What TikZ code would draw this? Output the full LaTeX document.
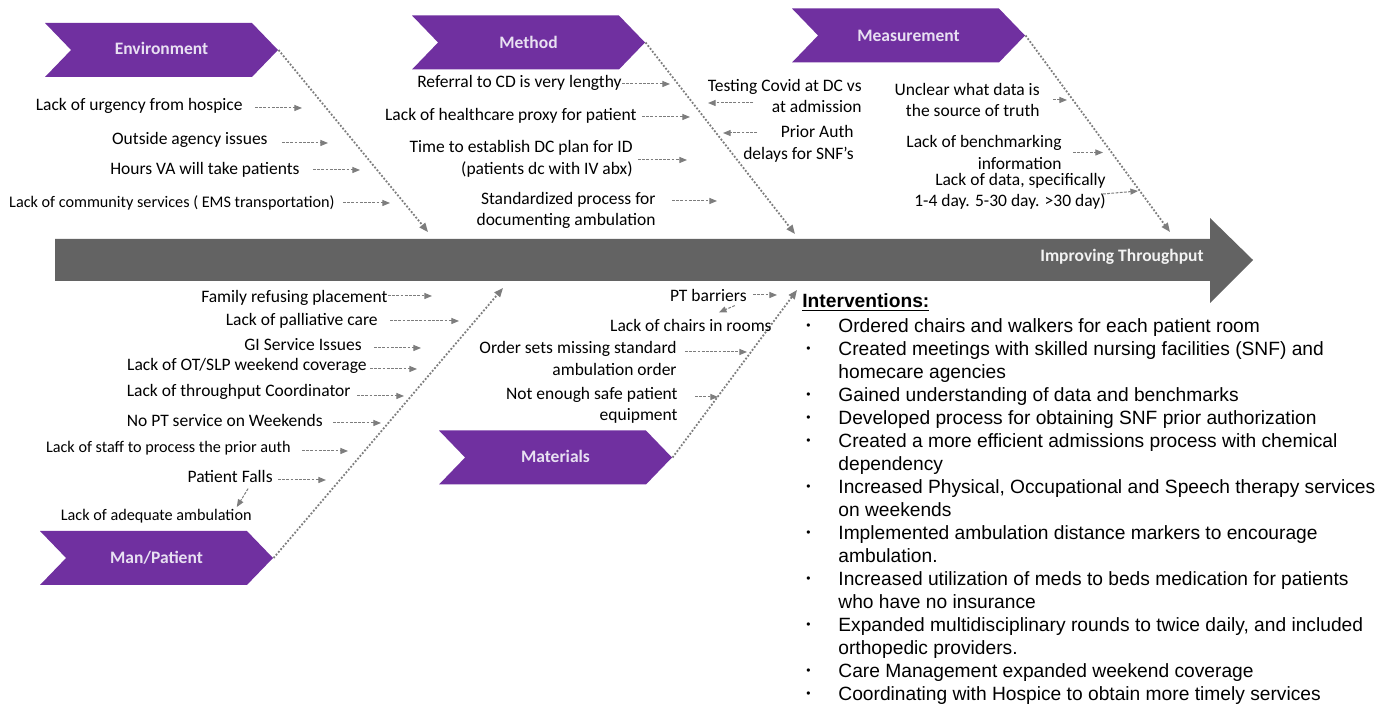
\documentclass[tikz,border=0pt]{standalone}
\usepackage{fontspec}
\setmainfont{Carlito}
\newfontfamily\arialf{Liberation Sans}
\usetikzlibrary{shapes.symbols,arrows.meta}
\definecolor{purp}{RGB}{112,48,160}
\definecolor{chevtxt}{RGB}{232,224,242}
\definecolor{spinec}{RGB}{99,99,99}
\definecolor{lgray}{RGB}{125,125,125}
\newcommand\lblfont{\fontsize{8.75}{10.75}\selectfont}
\newcommand\smlfont{\fontsize{8.1}{10}\selectfont}
\newcommand\intfont{\arialf\fontsize{9.6}{11.5}\selectfont}
\newcommand\smallbul{\raisebox{1.6pt}{\fontsize{6}{6}\selectfont\textbullet}}
\begin{document}
\begin{tikzpicture}[x=0.5pt,y=-0.5pt,
  chev/.style={signal, signal to=east, signal from=west, signal pointer angle=92,
    fill=purp, draw=none, minimum width=116.5pt, minimum height=27pt, inner sep=0pt,
    text=chevtxt, font=\lblfont\bfseries},
  lab/.style={font=\lblfont, inner sep=0pt, text height=6.3pt, text depth=1.9pt, anchor=east},
  labm/.style={font=\lblfont, inner sep=0pt, align=right, anchor=east},
  sml/.style={font=\smlfont, inner sep=0pt, text height=5.8pt, text depth=1.75pt, anchor=east},
  sarr/.style={draw=lgray, line width=0.5pt, dash pattern=on 1.4pt off 0.7pt,
    -{Triangle[length=3.8pt,width=3pt]}, lgray},
  darr/.style={draw=lgray, line width=0.9pt, dash pattern=on 0.9pt off 0.9pt,
    -{Triangle[length=4.5pt,width=3.6pt]}, lgray}]
\useasboundingbox (0,0) rectangle (1380,704);
\fill[white] (0,0) rectangle (1380,704);

% spine
\fill[spinec] (55,239) -- (1210,239) -- (1210,218) -- (1253,260) -- (1210,303) -- (1210,281) -- (55,281) -- cycle;
\node[anchor=east, inner sep=0pt, font=\lblfont\bfseries, text=white!95!black] (goal) at (1204,257) {Improving Throughput};

% chevrons
\node[chev] (env) at (161.5,50) {\raisebox{1.2pt}{Environment}};
\node[chev] (meth) at (528.5,42.5) {Method};
\node[chev] (meas) at (908.5,35.5) {\raisebox{-0.6pt}{Measurement}};
\node[chev] (man) at (156.5,558) {\raisebox{1pt}{Man/Patient}};
\node[chev] (mat) at (555.5,457.5) {\raisebox{1pt}{Materials}};

% bone end points on the spine
\coordinate (envend) at (428,232);
\coordinate (methend) at (795,234);
\coordinate (measend) at (1170,232);
\coordinate (manend) at (503,288);
\coordinate (matend) at (797,290);

\draw[darr] (env.east) -- (envend);
\draw[darr] (meth.east) -- (methend);
\draw[darr] (meas.east) -- (measend);
\draw[darr] (man.east) -- (manend);
\draw[darr] (mat.east) -- (matend);

% Environment causes
\node[lab] (e1) at (243,106) {Lack of urgency from hospice};
\node[lab] (e2) at (268,140) {Outside agency issues};
\node[lab] (e3) at (300,170) {Hours VA will take patients};
\node[sml] (e4) at (335,203) {Lack of community services ( EMS transportation)};
\draw[sarr] ([xshift=6pt,yshift=-1pt]e1.east) -- ++(47,0);
\draw[sarr] ([xshift=7pt,yshift=-1.5pt]e2.east) -- ++(46,0);
\draw[sarr] ([xshift=6.5pt]e3.east) -- ++(47,0);
\draw[sarr] ([xshift=4pt]e4.east) -- ++(47,0);

% Method causes
\node[lab] (m1) at (622,83) {Referral to CD is very lengthy};
\node[lab] (m2) at (637,116) {Lack of healthcare proxy for patient};
\node[labm] (m3) at (633,159) {Time to establish DC plan for ID\\(patients dc with IV abx)};
\node[labm] (m4) at (656,210.5) {Standardized process for\\documenting ambulation};
\node[labm] (m5) at (862,96) {Testing Covid at DC vs\\at admission};
\node[labm] (m6) at (854,144) {Prior Auth\\delays for SNF’s};
\draw[sarr] ([yshift=-0.5pt]m1.east) -- ++(48,0);
\draw[sarr] ([xshift=2.5pt,yshift=-0.5pt]m2.east) -- ++(48,0);
\draw[sarr] ([xshift=2.5pt,yshift=-0.5pt]m3.east) -- ++(49,0);
\draw[sarr] ([xshift=8pt,yshift=4.75pt]m4.east) -- ++(45,0);
\draw[sarr] ([xshift=-54.5pt,yshift=-3.5pt]m5.east) -- ++(-45,0);
\draw[sarr] ([xshift=-48.5pt,yshift=5.5pt]m6.east) -- ++(-34,0);

% Measurement causes
\node[labm] (s1) at (1040,100) {Unclear what data is\\the source of truth};
\node[labm] (s2) at (1062,152.5) {Lack of benchmarking\\information};
\node[labm] (s3) at (1106,191.5) {Lack of data, specifically\\1-4 day. 5-30 day. >30 day)};
\draw[sarr] ([xshift=6.5pt]s1.east) -- ++(14,0);
\draw[sarr] ([xshift=5.5pt]s2.east) -- ++(30,0);
\draw[sarr] ([xshift=-1.5pt,yshift=-1.25pt]s3.east) -- ++(35,-3);

% Man/Patient causes
\node[lab] (p1) at (388,298) {Family refusing placement};
\node[lab] (p2) at (378,321) {Lack of palliative care};
\node[lab] (p3) at (362,346) {GI Service Issues};
\node[lab] (p4) at (367,366) {Lack of OT/SLP weekend coverage};
\node[lab] (p5) at (351,392) {Lack of throughput Coordinator};
\node[lab] (p6) at (323,422) {No PT service on Weekends};
\node[sml] (p7) at (291,448) {Lack of staff to process the prior auth};
\node[lab] (p8) at (273,478) {Patient Falls};
\node[sml] (p9) at (252,516) {Lack of adequate ambulation};
\draw[sarr] ([yshift=1pt]p1.east) -- ++(44,0);
\draw[sarr] ([xshift=6pt]p2.east) -- ++(69,0);
\draw[sarr] ([xshift=6pt,yshift=-1pt]p3.east) -- ++(47,0);
\draw[sarr] ([xshift=1.5pt,yshift=-1.5pt]p4.east) -- ++(47,0);
\draw[sarr] ([xshift=3pt,yshift=-2pt]p5.east) -- ++(47,0);
\draw[sarr] ([xshift=5pt,yshift=-0.5pt]p6.east) -- ++(48,0);
\draw[sarr] ([xshift=5.5pt,yshift=-1.5pt]p7.east) -- ++(46,0);
\draw[sarr] ([xshift=2.5pt,yshift=-1pt]p8.east) -- ++(48,0);
\draw[sarr] ([xshift=9pt,yshift=-1pt]p8.south) -- ([xshift=40.25pt,yshift=0.5pt]p9.north);

% Materials causes
\node[lab] (t1) at (747,297) {PT barriers};
\node[lab] (t2) at (772,327) {Lack of chairs in rooms};
\node[labm] (t3) at (677,358.5) {Order sets missing standard\\ambulation order};
\node[labm] (t4) at (678,405.5) {Not enough safe patient\\equipment};
\draw[sarr] ([xshift=3pt,yshift=1pt]t1.east) -- ++(24,0);
\draw[sarr] ([xshift=13.25pt]t1.south) -- ([xshift=14pt,yshift=3pt]t2.north);
\draw[sarr] ([xshift=4pt,yshift=3.25pt]t3.east) -- ++(62,0);
\draw[sarr] ([xshift=8.5pt,yshift=4.25pt]t4.east) -- ++(23,0);

% Interventions
\node[anchor=base west, inner sep=0pt, font=\intfont] (intv) at (802,307.5) {%
\begin{tabular}[t]{@{\hspace{2pt}}p{16pt}@{}l@{}}
\multicolumn{2}{@{}l@{}}{\textbf{\underline{Interventions:}}}\\[1.2pt]
\smallbul & Ordered chairs and walkers for each patient room\\
\smallbul & Created meetings with skilled nursing facilities (SNF) and\\
 & homecare agencies\\
\smallbul & Gained understanding of data and benchmarks\\
\smallbul & Developed process for obtaining SNF prior authorization\\
\smallbul & Created a more efficient admissions process with chemical\\
 & dependency\\
\smallbul & Increased Physical, Occupational and Speech therapy services\\
 & on weekends\\
\smallbul & Implemented ambulation distance markers to encourage\\
 & ambulation.\\
\smallbul & Increased utilization of meds to beds medication for patients\\
 & who have no insurance\\
\smallbul & Expanded multidisciplinary rounds to twice daily, and included\\
 & orthopedic providers.\\
\smallbul & Care Management expanded weekend coverage\\
\smallbul & Coordinating with Hospice to obtain more timely services
\end{tabular}};
\end{tikzpicture}
\end{document}
